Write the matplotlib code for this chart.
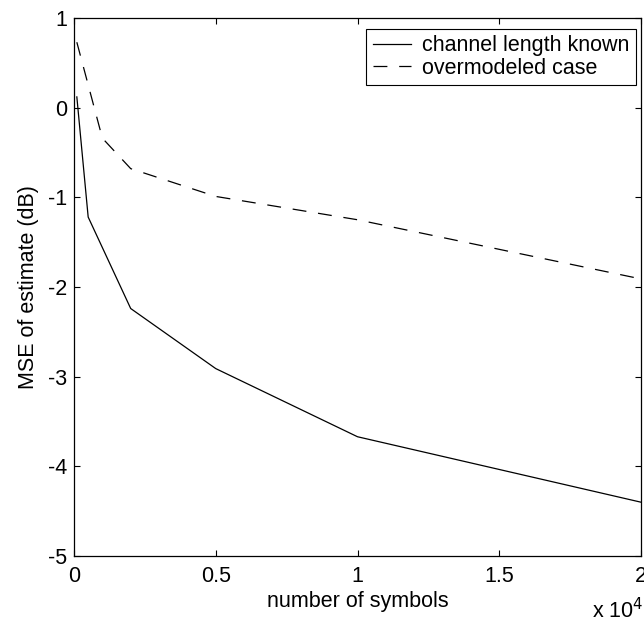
import numpy as np
import matplotlib
matplotlib.use('Agg')
import matplotlib.pyplot as plt
from matplotlib.ticker import FuncFormatter

plt.rcParams['font.family'] = ['Liberation Sans', 'DejaVu Sans']
plt.rcParams['lines.scale_dashes'] = False

# number of symbols
n_known = [100, 500, 2000, 5000, 10000, 20000]
mse_known = [0.12, -1.22, -2.24, -2.91, -3.67, -4.40]

n_over = [100, 1000, 2000, 5000, 10000, 20000]
mse_over = [0.73, -0.34, -0.68, -0.99, -1.25, -1.91]

fs = 15.5

fig = plt.figure(figsize=(6.44, 6.22), dpi=100)
ax = fig.add_axes([74/644, 66/622, 567/644, 538/622])

ax.plot(n_known, mse_known, 'k-', lw=0.9, label='channel length known')
ax.plot(n_over, mse_over, color='k', ls=(0, (10, 8.5)), lw=0.9, label='overmodeled case')

ax.set_xlim(0, 20000)
ax.set_ylim(-5, 1)
ax.set_xticks([0, 5000, 10000, 15000, 20000])
ax.xaxis.set_major_formatter(FuncFormatter(lambda v, p: '%g' % (v / 1e4)))
ax.set_yticks(np.arange(-5, 2, 1))
ax.yaxis.set_major_formatter(FuncFormatter(lambda v, p: '%d' % v))

ax.tick_params(direction='in', length=4, width=0.8, top=True, right=True,
               labelsize=fs)
ax.tick_params(axis='x', pad=7)
ax.tick_params(axis='y', pad=5)
for s in ax.spines.values():
    s.set_linewidth(0.9)

ax.set_xlabel('number of symbols', fontsize=fs, labelpad=3)
ax.set_ylabel('MSE of estimate (dB)', fontsize=fs, labelpad=6)
ax.text(0.9136, -0.115, 'x 10$^4$', transform=ax.transAxes, fontsize=fs,
        ha='left', va='baseline')

leg = ax.legend(loc='upper right', bbox_to_anchor=(0.991, 0.9796), fontsize=fs,
                fancybox=False, framealpha=1, edgecolor='k', borderaxespad=0,
                handlelength=1.8, handletextpad=0.5, labelspacing=0.05,
                borderpad=0.3)
leg.get_frame().set_linewidth(0.8)

fig.savefig('out.png', dpi=100)
